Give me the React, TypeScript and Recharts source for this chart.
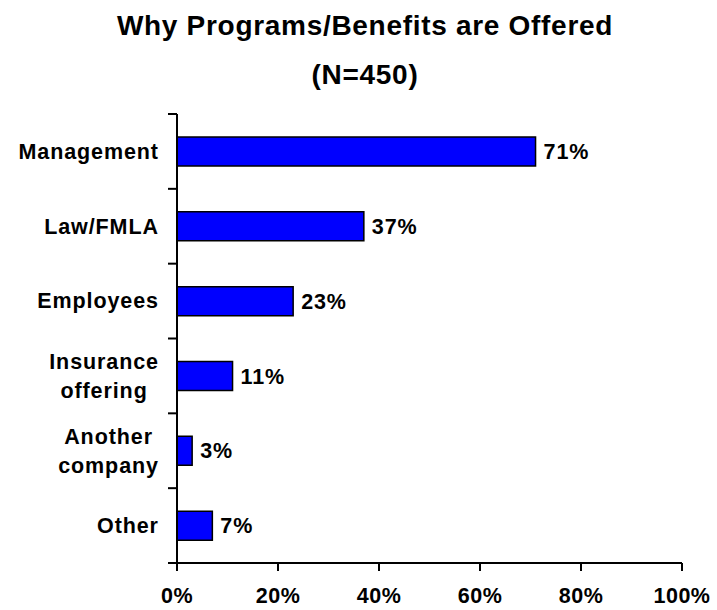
import React from 'react';
import { BarChart, Bar, XAxis, YAxis, LabelList } from 'recharts';

// chart values
const categories = ['Management', 'Law/FMLA', 'Employees', 'Insurance\noffering', 'Another\ncompany', 'Other'];
const percents = [71, 37, 23, 11, 3, 7];
const xTicks = [0, 20, 40, 60, 80, 100];

const data = categories.map((name, i) => ({ name, value: percents[i] }));

const WIDTH = 717;
const HEIGHT = 610;
const MARGIN = { top: 114, right: 35, bottom: 0, left: 0 };
const X_AXIS_HEIGHT = 47;
const Y_AXIS_WIDTH = 177;
const FONT = '"Liberation Sans", Arial, Helvetica, sans-serif';
const LABEL_SIZE = 21.5;
const LETTER = 0.9;

const plotHeight = HEIGHT - MARGIN.top - MARGIN.bottom - X_AXIS_HEIGHT;
const bandSize = plotHeight / categories.length;

let measureCtx: CanvasRenderingContext2D | null = null;
const measure = (s: string) => {
  if (!measureCtx) {
    measureCtx = document.createElement('canvas').getContext('2d');
  }
  if (!measureCtx) return s.length * LABEL_SIZE * 0.6;
  measureCtx.font = `bold ${LABEL_SIZE}px ${FONT}`;
  return measureCtx.measureText(s).width + s.length * LETTER;
};

const TICK_SIZE = 9;
const TICK_MARGIN = 10;
const LINE_GAP = 29;

// category label + tick lines at the band boundaries (not centres)
const CategoryTick = (props: any) => {
  const { x, y, payload, index } = props;
  const axisX = x + TICK_SIZE + TICK_MARGIN;
  const lines = String(payload.value).split('\n');
  const top = y - bandSize / 2;
  const bottom = y + bandSize / 2;
  const isLast = index === categories.length - 1;
  let textEls: React.ReactNode;
  if (lines.length === 1) {
    textEls = (
      <text x={x + LETTER} y={y} dy="0.34em" textAnchor="end">
        {lines[0]}
      </text>
    );
  } else {
    const w = Math.max(...lines.map(measure));
    const cx = x + LETTER - w / 2;
    textEls = lines.map((l, i) => (
      <text key={i} x={cx} y={y + (i - (lines.length - 1) / 2) * LINE_GAP} dy="0.35em" textAnchor="middle">
        {l}
      </text>
    ));
  }
  return (
    <g>
      <line x1={axisX - TICK_SIZE} x2={axisX} y1={top} y2={top} stroke="#000" strokeWidth={2} />
      {isLast && <line x1={axisX - TICK_SIZE} x2={axisX} y1={bottom} y2={bottom} stroke="#000" strokeWidth={2} />}
      <g fill="#000" fontFamily={FONT} fontWeight="bold" fontSize={LABEL_SIZE} letterSpacing={LETTER}>
        {textEls}
      </g>
    </g>
  );
};

export default function App() {
  return (
    <div style={{ position: 'absolute', left: 0, top: 0, width: WIDTH, height: HEIGHT, background: '#fff' }}>
      <svg width={WIDTH} height={110} style={{ position: 'absolute', left: 0, top: 0 }}>
        <g fontFamily={FONT} fontWeight="bold" fontSize={28} fill="#000" textAnchor="middle" letterSpacing={0.7}>
          <text x={365} y={35}>Why Programs/Benefits are Offered</text>
          <text x={365} y={84}>(N=450)</text>
        </g>
      </svg>
      <BarChart
        width={WIDTH}
        height={HEIGHT}
        data={data}
        layout="vertical"
        margin={MARGIN}
        barSize={29}
      >
        <XAxis
          type="number"
          domain={[0, 100]}
          ticks={xTicks}
          interval={0}
          tickFormatter={(v: number) => `${v}%`}
          height={X_AXIS_HEIGHT}
          axisLine={{ stroke: '#000', strokeWidth: 2 }}
          tickLine={{ stroke: '#000', strokeWidth: 2 }}
          tickSize={8}
          tickMargin={17}
          tick={{ fill: '#000', fontFamily: FONT, fontWeight: 'bold', fontSize: LABEL_SIZE, letterSpacing: 0.5 }}
        />
        <YAxis
          type="category"
          dataKey="name"
          width={Y_AXIS_WIDTH}
          axisLine={{ stroke: '#000', strokeWidth: 2 }}
          tickLine={false}
          tickSize={TICK_SIZE}
          tickMargin={TICK_MARGIN}
          interval={0}
          tick={<CategoryTick />}
        />
        <Bar dataKey="value" fill="#0000FF" stroke="#000" strokeWidth={1.5} isAnimationActive={false}>
          <LabelList
            dataKey="value"
            position="right"
            offset={8}
            formatter={(v: any) => `${v}%`}
            fill="#000"
            fontFamily={FONT}
            fontWeight="bold"
            fontSize={LABEL_SIZE}
            letterSpacing={LETTER}
          />
        </Bar>
      </BarChart>
    </div>
  );
}
